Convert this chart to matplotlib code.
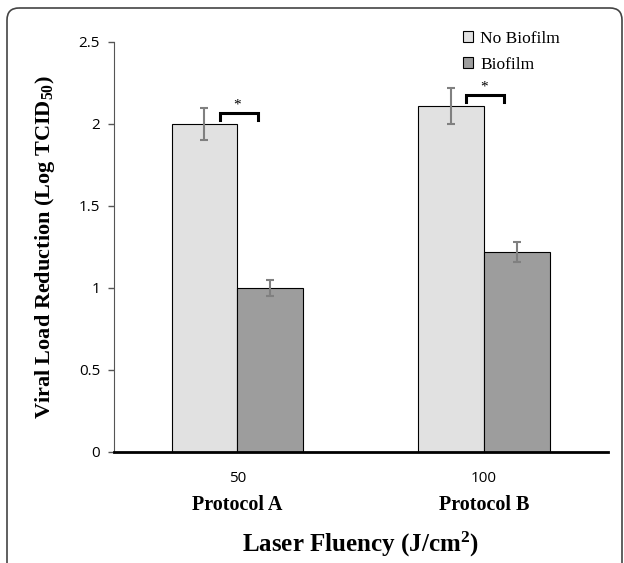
import matplotlib.pyplot as plt
import numpy as np
from matplotlib.patches import FancyBboxPatch

plt.rcParams["mathtext.fontset"] = "custom"
plt.rcParams["mathtext.rm"] = "Liberation Serif"
plt.rcParams["mathtext.bf"] = "Liberation Serif:bold"
plt.rcParams["mathtext.default"] = "bf"

# data
fluency = ["50", "100"]
protocols = ["Protocol A", "Protocol B"]
series = ["No Biofilm", "Biofilm"]
no_biofilm = [2.0, 2.11]
no_biofilm_err = [0.10, 0.11]
biofilm = [1.0, 1.22]
biofilm_err = [0.05, 0.06]

colors = ["#e1e1e1", "#9d9d9d"]
serif = "Liberation Serif"
sans = "Open Sans"

fig = plt.figure(figsize=(6.24, 5.63), dpi=100)

# rounded frame around the whole picture, drawn in pixel units
bg = fig.add_axes([0, 0, 1, 1])
bg.set_xlim(0, 624)
bg.set_ylim(563, 0)
bg.axis("off")
bg.add_patch(FancyBboxPatch((7, 8), 615, 600, boxstyle="round,pad=0,rounding_size=12",
                            fill=False, edgecolor="#444444", linewidth=1.2))

ax = fig.add_axes([0.1827, 0.1972, 0.7909, 0.7282])
ax.patch.set_alpha(0)

x = np.arange(len(fluency))
w = 0.267
ax.bar(x - w / 2, no_biofilm, w, color=colors[0], edgecolor="black", linewidth=0.8, label=series[0])
ax.bar(x + w / 2, biofilm, w, color=colors[1], edgecolor="black", linewidth=0.8, label=series[1])
ax.errorbar(x - w / 2, no_biofilm, yerr=no_biofilm_err, fmt="none", ecolor="#808080", elinewidth=1.5, capsize=3, capthick=1.5)
ax.errorbar(x + w / 2, biofilm, yerr=biofilm_err, fmt="none", ecolor="#808080", elinewidth=1.5, capsize=3, capthick=1.5)

# significance brackets
for xi, v in zip(x, no_biofilm):
    top = v + 0.068
    ax.plot([xi + 0.005 - 0.077, xi + 0.005 - 0.077, xi + 0.005 + 0.077, xi + 0.005 + 0.077],
            [top - 0.043, top, top, top - 0.043], color="black", lw=2.2, solid_joinstyle="miter")
    ax.text(xi, top + 0.01, "*", ha="center", va="bottom", fontsize=11, family=serif)

ax.set_xlim(-0.5, 1.5)
ax.set_ylim(0, 2.5)
ax.set_yticks([0, 0.5, 1, 1.5, 2, 2.5])
ax.set_yticklabels(["0", "0.5", "1", "1.5", "2", "2.5"], family=sans, fontsize=11)
ax.tick_params(axis="y", length=4, width=1, color="#555555", pad=6)
ax.set_xticks([])
for s in ["top", "right"]:
    ax.spines[s].set_visible(False)
ax.spines["left"].set_color("#555555")
ax.spines["bottom"].set_linewidth(2)

for xi, f, p in zip(x, fluency, protocols):
    ax.text(xi, -0.16, f, ha="center", va="center", fontsize=11, family=sans)
    ax.text(xi, -0.325, p, ha="center", va="center", fontsize=14.5, family=serif, weight="bold")

ax.set_ylabel("Viral Load Reduction (Log TCID$_{50}$)", family=serif, fontsize=16, weight="bold", labelpad=16)
ax.text(0.5, -0.225, "Laser Fluency (J/cm$^{2}$)", ha="center", va="center", family=serif, fontsize=18,
        weight="bold", transform=ax.transAxes)

ax.legend(loc="upper right", bbox_to_anchor=(0.935, 1.065), frameon=False, prop={"family": serif, "size": 12.5},
          handlelength=0.6, handleheight=0.6, handletextpad=0.4, labelspacing=0.55)

fig.savefig("out.png", dpi=100)
